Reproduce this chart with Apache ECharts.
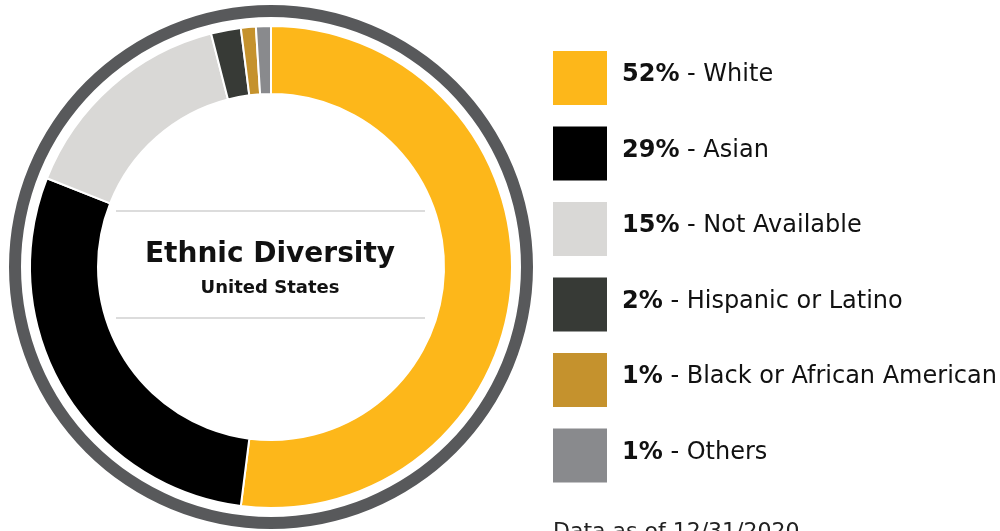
<!DOCTYPE html>
<html>
<head>
<meta charset="utf-8">
<script src="https://cdn.jsdelivr.net/npm/echarts@6/dist/echarts.min.js"></script>
<style>
html,body{margin:0;padding:0;background:#fff;}
#c{width:1000px;height:531px;}
</style>
</head>
<body>
<div id="c"></div>
<script>
const categories = ['White', 'Asian', 'Not Available', 'Hispanic or Latino', 'Black or African American', 'Others'];
const values = [52, 29, 15, 2, 1, 1];
const colors = ['#FDB71A', '#000000', '#D9D8D6', '#373A36', '#C5922D', '#898A8D'];
const titleText = 'Ethnic Diversity';
const subtitleText = 'United States';
const noteText = 'Data as of 12/31/2020';

const FONT = '"DejaVu Sans", sans-serif';
const chart = echarts.init(document.getElementById('c'), null, {renderer: 'canvas'});

const valueByName = {};
categories.forEach((c, i) => { valueByName[c] = values[i]; });

chart.setOption({
  animation: false,
  legend: {
    orient: 'vertical',
    left: 553,
    top: 51,
    padding: 0,
    itemWidth: 54,
    itemHeight: 54,
    itemGap: 21.5,
    icon: 'rect',
    selectedMode: false,
    itemStyle: {borderWidth: 0},
    data: categories,
    formatter: function (name) {
      return '{b|' + valueByName[name] + '%}{n| - ' + name + '}';
    },
    textStyle: {
      padding: [0, 0, 6, 10],
      rich: {
        b: {fontFamily: FONT, fontSize: 24, fontWeight: 'bold', color: '#111'},
        n: {fontFamily: FONT, fontSize: 24, color: '#111'}
      }
    }
  },
  graphic: [
    {type: 'ring', silent: true, shape: {cx: 271, cy: 267, r: 262, r0: 250}, style: {fill: '#58595B'}, z: 0},
    {type: 'line', silent: true, shape: {x1: 116, y1: 211, x2: 425, y2: 211}, style: {stroke: '#DCDCDC', lineWidth: 2}},
    {type: 'line', silent: true, shape: {x1: 116, y1: 318, x2: 425, y2: 318}, style: {stroke: '#DCDCDC', lineWidth: 2}},
    {type: 'text', silent: true, style: {text: titleText, x: 270, y: 255, align: 'center', verticalAlign: 'middle', font: 'bold 28px ' + FONT, fill: '#111'}},
    {type: 'text', silent: true, style: {text: subtitleText, x: 270, y: 288, align: 'center', verticalAlign: 'middle', font: 'bold 18px ' + FONT, fill: '#111'}},
    {type: 'text', silent: true, style: {text: noteText, x: 553, y: 521, align: 'left', verticalAlign: 'top', font: '22px ' + FONT, fill: '#222'}}
  ],
  series: [{
    type: 'pie',
    center: [271, 267],
    radius: [173, 241],
    startAngle: 90,
    clockwise: true,
    silent: true,
    label: {show: false},
    labelLine: {show: false},
    itemStyle: {borderColor: '#fff', borderWidth: 2},
    data: categories.map((c, i) => ({name: c, value: values[i], itemStyle: {color: colors[i]}}))
  }]
});
</script>
</body>
</html>
